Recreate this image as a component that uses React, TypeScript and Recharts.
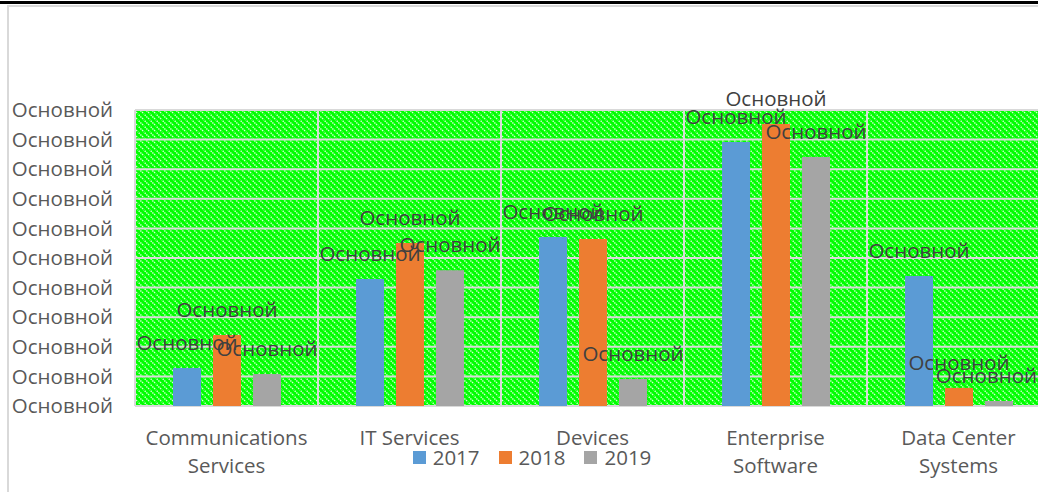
import React from 'react';
import { BarChart, Bar, XAxis, YAxis, CartesianGrid, Legend, LabelList } from 'recharts';

const categories = ['Communications\nServices', 'IT Services', 'Devices', 'Enterprise\nSoftware', 'Data Center\nSystems'];
const values2017 = [12.8, 42.9, 57.1, 89.2, 43.9];
const values2018 = [24.0, 55.1, 56.4, 95.3, 6.1];
const values2019 = [10.8, 45.9, 9.1, 84.1, 1.7];
const seriesNames = ['2017', '2018', '2019'];
const seriesColors = ['#5B9BD5', '#ED7D31', '#A5A5A5'];
const yTicks = [0, 10, 20, 30, 40, 50, 60, 70, 80, 90, 100];
const tickText = 'Основной';
const labelText = 'Основной';

const data = categories.map((c, i) => ({
  name: c,
  s2017: values2017[i],
  s2018: values2018[i],
  s2019: values2019[i],
}));
const keys = ['s2017', 's2018', 's2019'];

const FONT = '"Open Sans", "Noto Sans", sans-serif';
const FS = 20.5;
const VISIBLE_RIGHT = 1037;
const LABEL_HALF = 50;

const CatTick = (props: any) => {
  const { x, y, payload } = props;
  const lines = String(payload.value).split('\n');
  return (
    <text x={x} y={y} textAnchor="middle" fill="#595959" fontSize={FS} fontFamily={FONT}>
      {lines.map((l, i) => (
        <tspan key={i} x={x} dy={i === 0 ? 39 : 28}>{l}</tspan>
      ))}
    </text>
  );
};

const BarLabel = (props: any) => {
  const { x, y, width } = props;
  const cx = Number(x) + Number(width) / 2;
  const overflow = cx + LABEL_HALF > VISIBLE_RIGHT;
  return (
    <text
      x={overflow ? VISIBLE_RIGHT : cx}
      y={Number(y) - 18}
      textAnchor={overflow ? 'end' : 'middle'}
      fill="#404040"
      fontSize={FS}
      fontFamily={FONT}
    >
      {labelText}
    </text>
  );
};

const LegendContent = () => (
  <div style={{ display: 'flex', justifyContent: 'center', alignItems: 'center', fontFamily: FONT, fontSize: FS, color: '#595959', lineHeight: '26px' }}>
    {seriesNames.map((n, i) => (
      <div key={n} style={{ display: 'flex', alignItems: 'center', marginLeft: i === 0 ? 0 : 19 }}>
        <div style={{ width: 13, height: 13, background: seriesColors[i], marginRight: 7 }} />
        <span>{n}</span>
      </div>
    ))}
  </div>
);

export default function App() {
  return (
    <div style={{ position: 'absolute', left: 0, top: 0, width: 1038, height: 492, overflow: 'hidden', background: '#fff' }}>
      <div style={{ position: 'absolute', left: 0, top: 1, width: 1038, height: 3, background: '#000' }} />
      <div style={{ position: 'absolute', left: 7, top: 5, width: 1100, height: 600, border: '2px solid #D9D9D9', boxSizing: 'border-box' }} />
      <div style={{ position: 'absolute', left: 0, top: 0 }}>
        <BarChart
          width={1060}
          height={492}
          data={data}
          margin={{ top: 110, right: 10, bottom: 26, left: 0 }}
          barSize={28}
          barGap={12}
        >
          <defs>
            <pattern id="hatch" width="6" height="6" patternUnits="userSpaceOnUse">
              <rect width="6" height="6" fill="#00FF00" />
              <path d="M-1,-1 L7,7 M-4,2 L0,6 M2,-4 L6,0" stroke="#FFFFFF" strokeWidth={1.4} strokeDasharray="1.4 1" opacity={0.85} />
            </pattern>
          </defs>
          <CartesianGrid
            fill="url(#hatch)"
            stroke="#D9D9D9"
            strokeWidth={2}
            fillOpacity={1}
            verticalCoordinatesGenerator={({ offset }: any) =>
              categories.map((_, i) => offset.left + (i * offset.width) / categories.length).concat([offset.left + offset.width])
            }
          />
          <XAxis
            dataKey="name"
            height={60}
            axisLine={false}
            tickLine={false}
            tickSize={0}
            tickMargin={0}
            interval={0}
            tick={<CatTick />}
          />
          <YAxis
            width={135}
            domain={[0, 100]}
            ticks={yTicks}
            axisLine={false}
            tickLine={false}
            tickSize={0}
            tickMargin={22}
            interval={0}
            tickFormatter={() => tickText}
            tick={{ fill: '#595959', fontSize: FS, fontFamily: FONT }}
          />
          <Legend
            layout="horizontal"
            verticalAlign="middle"
            align="center"
            content={<LegendContent />}
            wrapperStyle={{ position: 'absolute', left: 0, top: 444, width: 1064 }}
          />
          {keys.map((k, i) => (
            <Bar key={k} dataKey={k} name={seriesNames[i]} fill={seriesColors[i]} isAnimationActive={false}>
              <LabelList dataKey={k} content={<BarLabel />} />
            </Bar>
          ))}
        </BarChart>
      </div>
    </div>
  );
}
